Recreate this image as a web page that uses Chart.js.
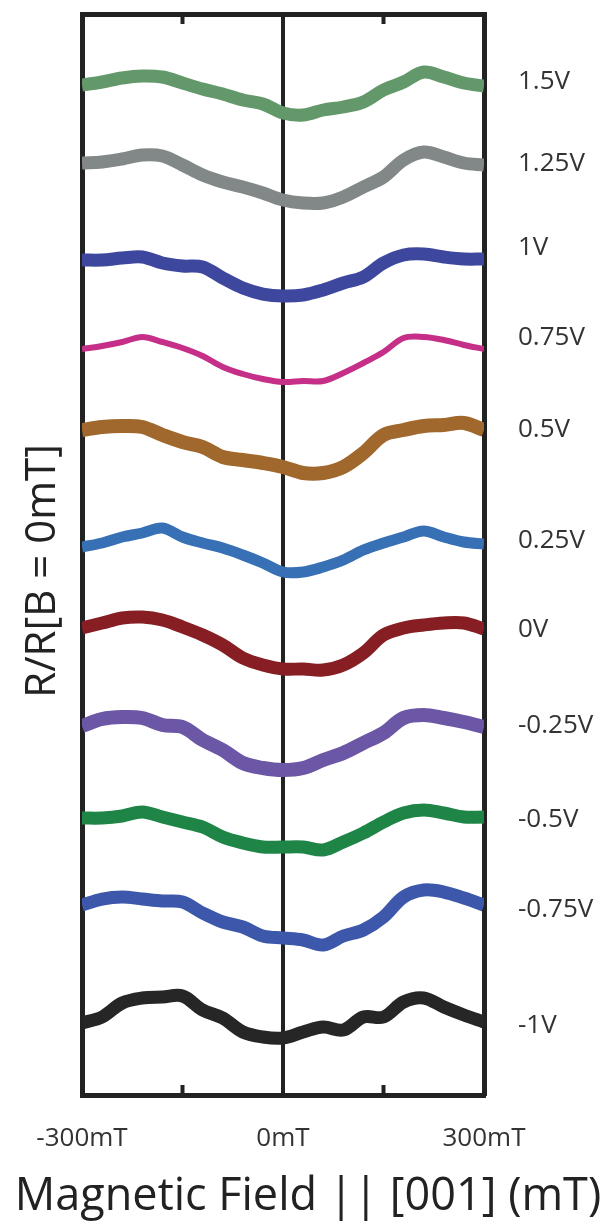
<!DOCTYPE html>
<html>
<head>
<meta charset="utf-8">
<script src="https://cdn.jsdelivr.net/npm/chart.js@4"></script>
<style>
  html, body { margin: 0; padding: 0; background: #fff; }
  #wrap { width: 616px; height: 1232px; position: relative; }
</style>
</head>
<body>
<div id="wrap"><canvas id="mr"></canvas></div>
<script>
// field sweep (mT)
const fields = [-300, -270, -240, -210, -180, -150, -120, -90, -60, -30, 0, 30, 60, 90, 120, 150, 180, 210, 240, 270, 300];

// R/R[B=0] traces, stacked with an offset (arb. units)
const v1_5 = [101.0, 101.3, 101.7, 101.9, 101.8, 101.2, 100.6, 100.1, 99.5, 99.1, 98.2, 98.0, 98.5, 98.8, 99.3, 100.5, 101.3, 102.3, 101.8, 101.2, 100.9];
const v1_25 = [93.2, 93.3, 93.6, 94.0, 93.9, 93.0, 92.0, 91.3, 90.8, 90.2, 89.5, 89.2, 89.2, 89.8, 90.8, 91.8, 93.5, 94.3, 93.8, 93.2, 93.0];
const v1 = [83.5, 83.5, 83.7, 83.8, 83.2, 82.9, 82.8, 81.7, 80.7, 80.1, 79.9, 80.0, 80.5, 81.2, 81.8, 83.2, 84.0, 84.1, 83.8, 83.6, 83.6];
const v0_75 = [74.6, 74.9, 75.3, 75.8, 75.3, 74.7, 73.9, 72.8, 72.1, 71.6, 71.3, 71.4, 71.4, 72.2, 73.2, 74.3, 75.7, 75.8, 75.5, 75.0, 74.6];
const v0_5 = [66.5, 66.8, 66.9, 66.8, 66.0, 65.3, 64.8, 63.8, 63.5, 63.2, 62.8, 62.2, 62.2, 62.8, 64.2, 66.0, 66.5, 66.9, 67.0, 67.2, 66.5];
const v0_25 = [54.8, 55.2, 55.8, 56.2, 56.7, 55.8, 55.2, 54.7, 54.0, 53.2, 52.3, 52.3, 52.8, 53.5, 54.5, 55.2, 55.8, 56.4, 55.8, 55.3, 55.1];
const v0 = [46.7, 47.2, 47.7, 47.8, 47.5, 46.8, 46.0, 45.0, 43.7, 43.0, 42.6, 42.6, 42.5, 43.0, 44.2, 46.0, 46.7, 47.0, 47.2, 47.2, 46.6];
const vm0_25 = [36.9, 37.6, 37.8, 37.7, 37.0, 36.8, 35.5, 34.5, 33.2, 32.7, 32.5, 32.7, 33.5, 34.2, 35.2, 36.2, 37.7, 38.0, 37.7, 37.3, 36.8];
const vm0_5 = [27.7, 27.7, 27.9, 28.3, 27.8, 27.3, 26.8, 25.8, 25.2, 24.8, 24.8, 24.8, 24.5, 25.3, 26.2, 27.3, 28.2, 28.5, 28.2, 27.8, 27.8];
const vm0_75 = [19.0, 19.6, 19.8, 19.6, 19.4, 19.3, 18.2, 17.3, 16.8, 15.9, 15.7, 15.5, 15.0, 15.9, 16.5, 17.8, 19.8, 20.5, 20.3, 19.7, 19.0];
const vm1 = [7.2, 7.8, 9.2, 9.7, 9.8, 9.9, 8.5, 7.7, 6.3, 5.8, 5.7, 6.3, 6.8, 6.5, 7.8, 7.8, 9.3, 9.7, 8.8, 8.0, 7.3];

const voltLabels = ["1.5V", "1.25V", "1V", "0.75V", "0.5V", "0.25V", "0V", "-0.25V", "-0.5V", "-0.75V", "-1V"];
const labelLevels = [101.3, 93.1, 84.7, 75.7, 66.5, 55.4, 46.5, 36.9, 27.5, 18.5, 6.9];
const traces = [v1_5, v1_25, v1, v0_75, v0_5, v0_25, v0, vm0_25, vm0_5, vm0_75, vm1];
const colors = ["#63996a", "#828787", "#3d479e", "#c62f87", "#a0682c", "#3870b5", "#861e23", "#6c56a6", "#1f8547", "#3d58aa", "#262626"];
const widths = [13, 13, 13, 6, 14, 11, 13, 14, 13, 13, 13];

const xTickValues = [-300, 0, 300];
const xTickLabels = ["-300mT", "0mT", "300mT"];
const minorTicks = [-150, 150];

const FONT = "'Open Sans', 'Noto Sans', sans-serif";
const INK = "#222";

// short inward tick marks on top and bottom frame
const innerTicks = {
    id: "innerTicks",
    afterDraw(chart) {
        const { ctx, chartArea } = chart;
        const sx = chart.scales.x;
        ctx.save();
        ctx.strokeStyle = INK;
        ctx.lineWidth = 4;
        minorTicks.forEach((v) => {
            const px = sx.getPixelForValue(v);
            ctx.beginPath();
            ctx.moveTo(px, chartArea.top);
            ctx.lineTo(px, chartArea.top + 10);
            ctx.moveTo(px, chartArea.bottom);
            ctx.lineTo(px, chartArea.bottom - 10);
            ctx.stroke();
        });
        ctx.restore();
    },
};

new Chart(document.getElementById("mr"), {
    type: "line",
    data: {
        datasets: traces.map((tr, i) => ({
            label: voltLabels[i],
            data: fields.map((f, j) => ({ x: f, y: tr[j] })),
            borderColor: colors[i],
            borderWidth: widths[i],
            pointRadius: 0,
            tension: 0.35,
            clip: 0,
        })),
    },
    options: {
        responsive: true,
        maintainAspectRatio: false,
        animation: false,
        layout: { padding: 0 },
        plugins: {
            legend: { display: false },
            tooltip: { enabled: false },
            title: {
                display: true,
                position: "bottom",
                text: "Magnetic Field || [001] (mT)",
                font: { family: FONT, size: 45, weight: "normal" },
                color: INK,
                padding: { top: 0, bottom: 8 },
            },
        },
        scales: {
            x: {
                type: "linear",
                position: "bottom",
                min: -300,
                max: 300,
                z: 1,
                afterBuildTicks: (s) => {
                    s.ticks = xTickValues.map((v) => ({ value: v }));
                },
                ticks: {
                    callback: (v, i) => xTickLabels[i],
                    font: { family: FONT, size: 26 },
                    color: "#333",
                    padding: 28,
                    maxRotation: 0,
                    autoSkip: false,
                },
                grid: {
                    drawTicks: false,
                    color: (c) => (c.tick && c.tick.value === 0 ? INK : "rgba(0,0,0,0)"),
                    lineWidth: 4,
                },
                border: { display: true, color: INK, width: 5 },
                afterFit: (s) => {
                    s.height = 75;
                    s.paddingLeft = 0;
                    s.paddingRight = 0;
                },
            },
            x2: {
                type: "linear",
                axis: "x",
                position: "top",
                min: -300,
                max: 300,
                z: 1,
                ticks: { display: false },
                grid: { display: false, drawTicks: false },
                border: { display: true, color: INK, width: 5 },
                afterFit: (s) => {
                    s.height = 14;
                    s.paddingLeft = 0;
                    s.paddingRight = 0;
                },
            },
            y: {
                type: "linear",
                position: "left",
                min: 0,
                max: 108.1,
                z: 1,
                ticks: { display: false },
                grid: { display: false, drawTicks: false },
                border: { display: true, color: INK, width: 5 },
                title: {
                    display: true,
                    text: "R/R[B = 0mT]   ",
                    font: { family: FONT, size: 42 },
                    color: INK,
                    padding: { top: 18, bottom: 0 },
                },
                afterFit: (s) => {
                    s.width = 82;
                    s.paddingTop = 0;
                    s.paddingBottom = 0;
                },
            },
            y2: {
                type: "linear",
                axis: "y",
                position: "right",
                min: 0,
                max: 108.1,
                z: 1,
                afterBuildTicks: (s) => {
                    s.ticks = labelLevels.map((v) => ({ value: v }));
                },
                ticks: {
                    callback: (v, i) => voltLabels[i],
                    font: { family: FONT, size: 26 },
                    color: "#333",
                    padding: 34,
                    autoSkip: false,
                },
                grid: { display: false, drawTicks: false },
                border: { display: true, color: INK, width: 5 },
                afterFit: (s) => {
                    s.width = 132;
                    s.paddingTop = 0;
                    s.paddingBottom = 0;
                },
            },
        },
    },
    plugins: [innerTicks],
});
</script>
</body>
</html>
